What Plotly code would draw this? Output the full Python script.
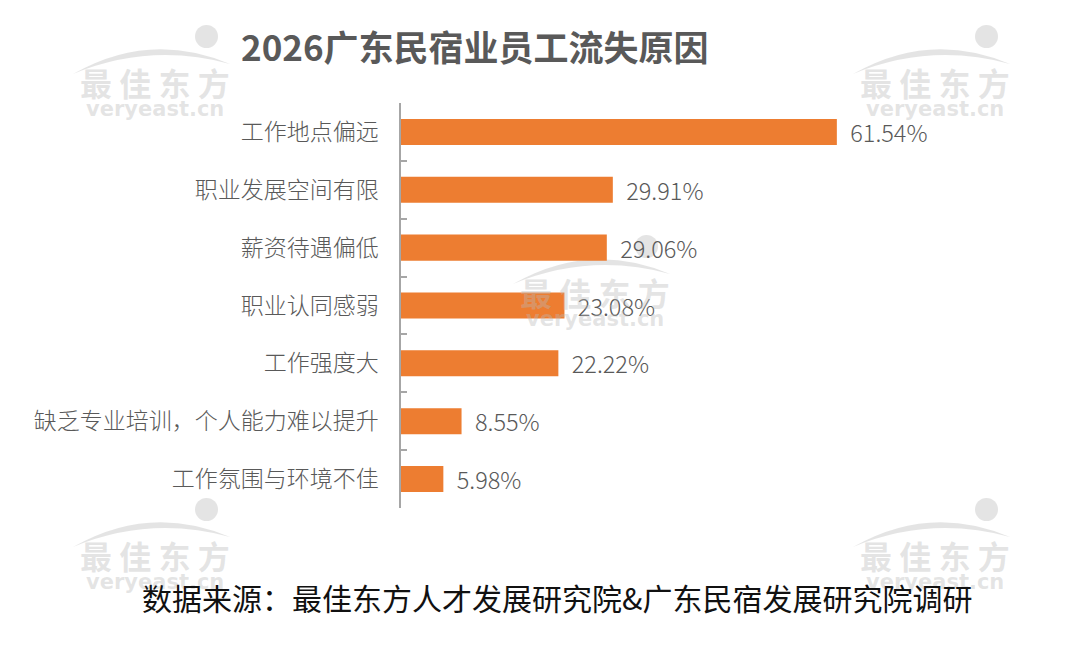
import plotly.graph_objects as go

categories = ["工作地点偏远", "职业发展空间有限", "薪资待遇偏低", "职业认同感弱",
              "工作强度大", "缺乏专业培训，个人能力难以提升", "工作氛围与环境不佳"]
values = [61.54, 29.91, 29.06, 23.08, 22.22, 8.55, 5.98]
value_labels = ["61.54%", "29.91%", "29.06%", "23.08%", "22.22%", "8.55%", "5.98%"]

title_text = "2026广东民宿业员工流失原因"
source_text = "数据来源：最佳东方人才发展研究院&广东民宿发展研究院调研"

FONT = "Noto Sans CJK SC"
GRAY = "#595959"
WM = "rgba(185,185,185,0.38)"

fig = go.Figure(go.Bar(
    x=values, y=categories, orientation="h",
    marker=dict(color="#ED7D31", line=dict(width=0)),
    text=value_labels, texttemplate="  %{text}", textposition="outside", cliponaxis=False,
    constraintext="none",
    textfont=dict(family=FONT, size=23.5, color=GRAY, weight=300),
))

L, R, T, B = 401, 77, 103, 148
pw, ph = 1080 - L - R, 656 - T - B

fig.update_layout(
    width=1080, height=656,
    margin=dict(l=L, r=R, t=T, b=B),
    paper_bgcolor="white", plot_bgcolor="white",
    bargap=0.55, showlegend=False,
    font=dict(family=FONT),
    xaxis=dict(range=[0, 85], visible=False, fixedrange=True),
    yaxis=dict(autorange="reversed", showline=True, linecolor="#A6A6A6", linewidth=1.5,
               ticks="inside", tickson="boundaries", ticklen=6, tickcolor="#A6A6A6", tickwidth=1.5,
               tickfont=dict(family=FONT, size=23, color=GRAY, weight=300),
               ticklabelstandoff=16, showgrid=False, zeroline=False),
)

def px(x, y):
    return (x - L) / pw, (656 - B - y) / ph

annotations = []
def add_text(text, x, y, size, color, family=FONT):
    ax, ay = px(x, y)
    annotations.append(dict(text=text, x=ax, y=ay, xref="paper", yref="paper", showarrow=False,
                            xanchor="center", yanchor="middle",
                            font=dict(family=family, size=size, color=color)))

shapes = []
wm = [(155, 82), (935, 82), (595, 292), (155, 555), (935, 555)]
for (cx, cy) in wm:
    add_text("<b>最 佳 东 方</b>", cx, cy, 32, WM)
    add_text("<b>veryeast.cn</b>", cx, cy + 27, 21, WM, family="DejaVu Sans")
    # swoosh
    p0 = px(cx - 82, cy - 8); c1 = px(cx - 5, cy - 52); p1 = px(cx + 75, cy - 18); c2 = px(cx - 5, cy - 40)
    path = (f"M {p0[0]},{p0[1]} Q {c1[0]},{c1[1]} {p1[0]},{p1[1]} "
            f"Q {c2[0]},{c2[1]} {p0[0]},{p0[1]} Z")
    shapes.append(dict(type="path", path=path, xref="paper", yref="paper",
                       fillcolor=WM, line=dict(width=0), layer="below"))
    d0 = px(cx + 40, cy - 57); d1 = px(cx + 63, cy - 34)
    shapes.append(dict(type="circle", x0=d0[0], y0=d1[1], x1=d1[0], y1=d0[1],
                       xref="paper", yref="paper", fillcolor=WM, line=dict(width=0), layer="below"))

add_text("<b>" + title_text + "</b>", 475, 46, 35, GRAY)
add_text(source_text, 557, 597, 30, "#111111")

fig.update_layout(annotations=annotations, shapes=shapes)

fig.write_html("out.html")
